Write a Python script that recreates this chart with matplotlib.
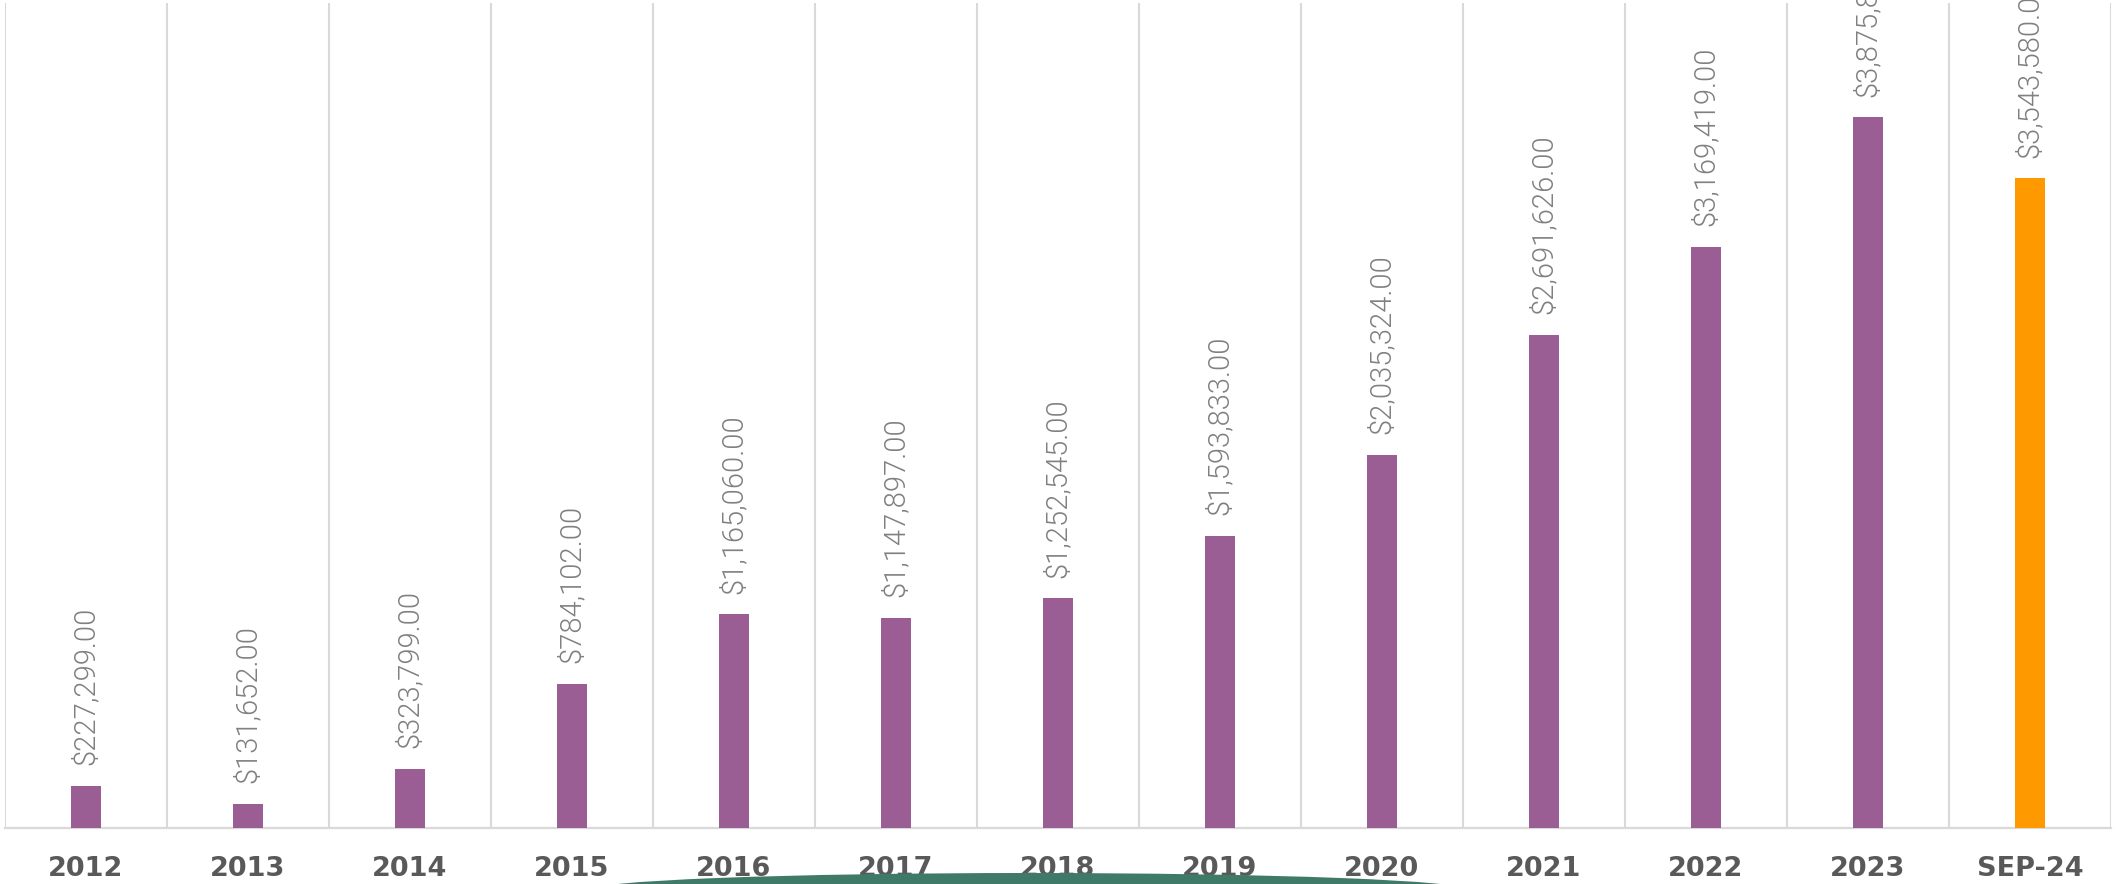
import matplotlib
matplotlib.use("Agg")
import matplotlib.pyplot as plt
from matplotlib.patches import Ellipse

# Annual totals
categories = ["2012", "2013", "2014", "2015", "2016", "2017", "2018",
              "2019", "2020", "2021", "2022", "2023", "SEP-24"]
values = [227299.00, 131652.00, 323799.00, 784102.00, 1165060.00, 1147897.00,
          1252545.00, 1593833.00, 2035324.00, 2691626.00, 3169419.00,
          3875826.00, 3543580.00]

purple = "#9b5e94"
orange = "#ff9900"
bar_colors = [purple] * (len(values) - 1) + [orange]

W, H = 2116, 884
fig = plt.figure(figsize=(W / 100, H / 100), dpi=100)
fig.patch.set_facecolor("white")

left_px, top_px, base_px, cat_px = 5, 3, 828, 162
ax = fig.add_axes([left_px / W, (H - base_px) / H,
                   cat_px * len(categories) / W, (base_px - top_px) / H])

x = list(range(len(categories)))
ax.bar(x, values, width=0.185, color=bar_colors, zorder=3)

ax.set_xlim(-0.5, len(categories) - 0.5)
ax.set_ylim(0, 4_500_000)

# Category separators
for b in range(len(categories) + 1):
    ax.axvline(b - 0.5, color="#d9d9d9", lw=1.5, zorder=1)

for s in ["top", "right", "left"]:
    ax.spines[s].set_visible(False)
ax.spines["bottom"].set_color("#d9d9d9")
ax.spines["bottom"].set_linewidth(1.6)
ax.set_yticks([])
ax.set_xticks(x)
ax.set_xticklabels(categories, fontsize=19.5, fontweight="bold",
                   color="#595959", family=["DejaVu Sans"])
ax.tick_params(axis="x", length=0, pad=20)

# Value labels above each bar
for xi, v in zip(x, values):
    ax.annotate(f"${v:,.2f}", xy=(xi, v), xytext=(0, 15),
                textcoords="offset points", rotation=90,
                ha="center", va="bottom", fontsize=21, fontweight=300,
                color="#808080", family=["Roboto"],
                annotation_clip=False, zorder=4)

# Decorative band at the bottom
fig.patches.append(Ellipse((1029 / W, 1 - 890 / H), 880 / W, 34 / H,
                           transform=fig.transFigure, facecolor="#3f7a68",
                           edgecolor="none", zorder=0))

fig.savefig("out.png", dpi=100, facecolor="white")
